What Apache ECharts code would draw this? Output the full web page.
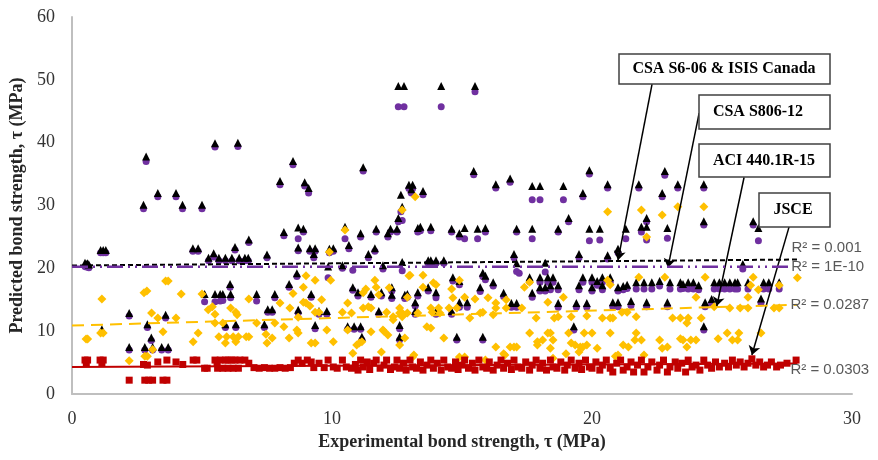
<!DOCTYPE html>
<html><head><meta charset="utf-8">
<script src="https://cdn.jsdelivr.net/npm/echarts@6/dist/echarts.min.js"></script>
<style>html,body{margin:0;padding:0;background:#fff}#c{width:878px;height:460px}</style>
</head><body><div id="c"></div>
<script>
const xTicks = [0, 10, 20, 30];
const yTicks = [0, 10, 20, 30, 40, 50, 60];
const seriesNames = ['CSA S6-06 & ISIS Canada', 'CSA S806-12', 'ACI 440.1R-15', 'JSCE'];
const r2Labels = ['R² = 0.001', 'R² = 1E-10', 'R² = 0.0287', 'R² = 0.0303'];

const csaS6 = [[0.5,20.9],[0.55,20.7],[0.6,20.8],[0.65,20.6],[1.1,22.9],[1.2,22.9],[1.3,22.9],[1.15,10.3],
[2.2,12.9],[2.2,7.5],[2.75,30.1],[2.85,37.8],[2.8,7.5],[2.9,11.1],[3.05,9.0],[3.1,7.5],[3.3,32.0],[3.45,7.5],[3.6,12.6],[3.7,7.5],[4.0,32.0],[4.25,30.1],[4.65,23.2],[4.85,23.2],[5.0,30.1],[5.1,15.9],[5.25,21.7],[5.45,22.4],[5.5,39.9],[5.5,15.9],[5.65,21.7],[5.7,15.9],[5.8,15.9],[5.9,21.7],[5.9,11.1],[6.08,17.5],[6.1,15.9],[6.15,21.7],[6.27,23.4],[6.3,11.1],[6.38,40.0],[6.43,21.7],[6.65,21.7],[6.78,21.7],[6.8,24.6],[7.1,15.9],[7.4,11.1],[7.5,22.2],[7.53,13.5],[7.7,13.5],[7.8,15.9],[8.0,33.9],[8.15,25.8],[8.35,17.5],[8.5,37.1],[8.65,19.2],[8.7,13.4],[8.7,26.5],[8.7,23.3],[8.9,26.3],[8.95,33.7],[9.1,32.8],[9.15,23.2],[9.2,15.9],[9.3,22.3],[9.35,23.2],[9.35,11.0],[9.5,13.2],[9.8,13.2],[9.85,20.3],[9.9,23.1],[10.05,23.2],[10.4,20.5],[10.5,26.6],[10.6,10.8],[10.65,23.7],[10.8,17.0],[10.85,10.8],[11.0,16.2],[11.1,25.6],[11.1,10.8],[11.15,9.1],[11.2,36.1],[11.4,22.3],[11.5,15.9],[11.65,23.2],[11.7,26.3],[11.8,13.2],[11.9,16.2],[11.96,20.5],[12.15,25.6],[12.25,26.3],[12.3,17.0],[12.3,15.8],[12.5,26.3],[12.55,28.0],[12.55,49.0],[12.6,11.0],[12.6,9.1],[12.65,31.7],[12.7,29.8],[12.7,21.0],[12.77,49.0],[12.8,15.8],[12.9,15.9],[12.96,33.3],[13.05,32.6],[13.1,33.3],[13.2,14.6],[13.2,13.2],[13.3,26.4],[13.3,16.2],[13.4,26.6],[13.5,32.3],[13.7,17.0],[13.7,21.3],[13.8,26.6],[13.8,21.3],[14.0,21.3],[14.0,16.2],[14.0,13.2],[14.2,49.0],[14.3,21.3],[14.6,26.3],[14.6,13.2],[14.65,18.6],[14.8,9.1],[14.9,25.6],[14.9,18.0],[14.9,14.6],[15.1,26.4],[15.2,14.6],[15.45,35.5],[15.5,49.0],[15.6,26.3],[15.7,17.0],[15.8,19.3],[15.8,9.1],[15.9,26.4],[15.9,18.8],[16.2,17.8],[16.3,33.4],[16.6,16.1],[16.85,34.3],[16.9,14.5],[17.0,22.3],[17.1,26.3],[17.1,20.8],[17.1,14.5],[17.6,18.6],[17.7,33.1],[17.7,26.3],[17.7,16.1],[18.0,33.1],[18.0,18.6],[18.0,17.0],[18.2,20.9],[18.2,17.0],[18.3,18.6],[18.4,17.3],[18.5,18.6],[18.7,26.3],[18.7,14.5],[18.7,17.3],[18.9,33.1],[19.1,28.0],[19.3,10.8],[19.4,14.5],[19.5,22.3],[19.5,17.3],[19.65,32.0],[19.65,18.6],[19.8,14.5],[19.9,35.6],[19.9,26.3],[20.0,18.6],[20.0,17.0],[20.2,18.0],[20.3,26.3],[20.4,18.6],[20.4,17.3],[20.6,33.4],[20.6,22.1],[20.7,18.6],[20.8,14.6],[21.0,23.1],[21.0,14.6],[21.0,17.0],[21.2,17.2],[21.3,26.3],[21.35,17.4],[21.5,14.8],[21.7,17.8],[21.8,33.4],[21.9,26.6],[22.0,17.8],[22.1,28.0],[22.1,26.6],[22.1,14.6],[22.3,17.8],[22.6,18.0],[22.7,32.0],[22.8,35.5],[22.9,26.4],[22.9,14.6],[23.0,17.8],[23.3,33.4],[23.4,17.8],[23.5,17.5],[23.7,17.8],[23.9,17.8],[24.1,17.3],[24.3,33.4],[24.3,27.5],[24.3,10.8],[24.35,14.6],[24.6,15.1],[24.7,17.8],[24.9,17.8],[25.1,17.8],[25.3,17.8],[25.5,17.8],[25.6,17.8],[25.8,20.7],[26.0,17.8],[26.2,27.5],[26.4,26.4],[26.5,15.2],[26.6,17.8],[26.8,17.8],[27.2,17.8]];

const csaS806 = [[0.5,20.3],[0.55,20.2],[0.6,20.4],[0.65,20.1],[1.1,22.5],[1.2,22.5],[1.3,22.5],[1.15,9.8],
[2.2,12.4],[2.2,7.0],[2.75,29.5],[2.85,37.0],[2.8,7.0],[2.9,10.6],[3.05,8.5],[3.1,7.0],[3.3,31.4],[3.45,7.0],[3.6,12.1],[3.7,7.0],[4.0,31.4],[4.25,29.5],[4.65,22.7],[4.85,22.7],[5.0,29.5],[5.1,14.7],[5.25,21.2],[5.45,21.8],[5.5,39.3],[5.5,14.7],[5.65,21.2],[5.7,14.8],[5.8,14.9],[5.9,21.2],[5.9,10.6],[6.08,17.0],[6.1,15.3],[6.15,21.2],[6.27,22.9],[6.3,10.6],[6.38,39.4],[6.43,21.2],[6.65,21.2],[6.78,21.2],[6.8,24.1],[7.1,14.8],[7.4,10.6],[7.5,21.7],[7.53,13.0],[7.7,13.0],[7.8,15.3],[8.0,33.3],[8.15,25.2],[8.35,17.0],[8.5,36.5],[8.65,18.7],[8.7,12.9],[8.7,24.7],[8.7,22.8],[8.9,25.8],[8.95,33.1],[9.1,32.0],[9.15,22.7],[9.2,15.4],[9.3,21.7],[9.35,22.7],[9.35,10.4],[9.5,12.7],[9.8,12.7],[9.85,18.5],[9.9,22.5],[10.05,22.7],[10.4,20.0],[10.5,24.7],[10.6,10.3],[10.65,23.1],[10.8,16.5],[10.8,19.7],[10.85,10.3],[11.0,15.6],[11.1,25.0],[11.1,10.3],[11.15,8.6],[11.2,35.5],[11.4,21.7],[11.5,15.4],[11.65,22.7],[11.7,25.8],[11.8,12.7],[11.9,15.6],[11.96,19.9],[12.15,25.0],[12.25,25.8],[12.3,16.4],[12.3,15.2],[12.5,25.8],[12.55,27.4],[12.55,45.7],[12.6,10.4],[12.6,8.6],[12.65,29.0],[12.7,27.6],[12.7,19.6],[12.77,45.7],[12.8,15.2],[12.9,15.4],[12.96,32.7],[13.05,32.0],[13.1,32.7],[13.2,14.0],[13.2,12.7],[13.3,25.8],[13.3,15.6],[13.4,26.0],[13.5,31.7],[13.7,16.4],[13.7,20.8],[13.8,26.0],[13.8,20.8],[14.0,20.8],[14.0,15.3],[14.0,12.7],[14.2,45.7],[14.3,20.8],[14.6,25.8],[14.6,12.7],[14.65,18.0],[14.8,8.6],[14.9,25.0],[14.9,17.4],[14.9,13.8],[15.1,24.7],[15.2,13.8],[15.45,34.9],[15.5,48.1],[15.6,24.7],[15.7,16.3],[15.8,18.7],[15.8,8.6],[15.9,25.8],[15.9,18.2],[16.2,17.2],[16.3,32.8],[16.6,15.5],[16.85,33.7],[16.9,13.8],[17.0,21.7],[17.1,25.8],[17.1,19.5],[17.2,19.2],[17.1,13.8],[17.6,17.9],[17.7,30.9],[17.7,24.7],[17.7,15.4],[18.0,30.9],[18.0,17.8],[18.0,16.4],[18.2,19.4],[18.2,16.4],[18.3,17.8],[18.4,16.6],[18.5,17.8],[18.7,25.8],[18.7,13.8],[18.7,16.6],[18.9,30.9],[19.1,27.4],[19.3,10.2],[19.4,13.8],[19.5,21.7],[19.5,16.6],[19.65,31.4],[19.65,17.8],[19.8,13.8],[19.9,35.0],[19.9,24.4],[20.0,17.8],[20.0,16.4],[20.2,17.3],[20.3,24.5],[20.4,17.8],[20.4,16.6],[20.6,32.8],[20.6,21.5],[20.7,17.8],[20.8,13.9],[21.0,22.5],[21.0,13.9],[21.0,16.4],[21.2,16.6],[21.3,24.7],[21.35,16.8],[21.5,14.1],[21.7,16.7],[21.8,32.8],[21.9,25.8],[22.0,16.7],[22.1,27.4],[22.1,24.5],[22.1,13.9],[22.3,16.7],[22.6,17.2],[22.7,31.4],[22.8,34.8],[22.9,24.8],[22.9,13.9],[23.0,16.7],[23.3,32.8],[23.4,16.7],[23.5,16.8],[23.7,16.7],[23.9,16.7],[24.1,16.6],[24.3,32.8],[24.3,26.9],[24.3,10.2],[24.35,13.9],[24.6,14.4],[24.7,16.7],[24.9,16.7],[25.1,16.7],[25.3,16.7],[25.5,16.7],[25.6,16.7],[25.8,19.9],[26.0,16.7],[26.2,26.9],[26.4,24.4],[26.5,14.5],[26.6,16.7],[26.8,16.7],[27.2,16.7]];

const aci = [[0.54,8.75],[0.6,8.75],[1.15,15.1],[1.1,9.7],[1.2,9.7],[2.2,5.3],[2.77,16.1],[2.88,16.4],[2.8,6.0],[2.9,6.0],[3.06,12.9],[3.1,7.1],[3.3,12.1],[3.5,9.9],[3.6,18.0],[3.7,18.0],[4.0,12.1],[4.2,15.9],[4.66,8.3],[4.85,9.7],[5.0,15.9],[5.24,13.4],[5.4,13.9],[5.5,12.7],[5.5,11.3],[5.8,11.3],[5.65,9.1],[6.1,13.7],[5.95,9.1],[6.2,9.1],[5.9,8.1],[6.3,8.3],[6.3,13.0],[6.35,12.6],[6.4,9.1],[6.7,9.1],[6.8,9.1],[6.8,15.1],[7.1,11.3],[7.46,9.5],[7.5,8.1],[7.7,8.9],[7.8,11.3],[8.0,14.5],[8.15,10.7],[8.35,8.9],[8.5,16.0],[8.38,13.7],[8.65,10.2],[8.7,9.7],[8.7,12.2],[8.9,17.0],[8.9,14.6],[9.0,14.5],[9.0,18.8],[9.15,14.0],[9.2,8.1],[9.35,8.1],[9.35,13.0],[9.35,18.1],[9.5,13.0],[9.6,15.0],[9.8,10.2],[9.9,22.6],[9.95,18.1],[10.05,8.3],[10.4,13.0],[10.5,26.1],[10.6,10.2],[10.6,14.5],[10.75,12.9],[10.8,6.5],[10.95,7.8],[11.05,8.1],[11.15,8.3],[11.2,16.1],[11.2,13.7],[11.3,16.7],[11.4,13.9],[11.5,9.9],[11.5,13.7],[11.65,18.1],[11.7,17.0],[11.8,15.8],[11.9,6.7],[11.96,10.2],[12.0,10.0],[12.1,13.0],[12.15,9.4],[12.2,16.9],[12.35,11.8],[12.35,12.3],[12.6,12.9],[12.6,7.8],[12.6,13.7],[12.7,12.9],[12.7,12.3],[12.7,29.3],[12.8,8.9],[12.9,12.9],[12.9,15.4],[12.96,18.8],[13.0,18.9],[13.1,5.9],[13.15,6.2],[13.2,31.4],[13.3,12.9],[13.5,17.0],[13.5,18.9],[13.65,10.7],[13.8,10.5],[13.8,13.7],[13.85,13.0],[13.9,17.7],[14.0,17.4],[14.1,13.7],[14.15,12.9],[14.3,8.9],[14.5,13.7],[14.6,16.7],[14.65,15.3],[14.8,13.7],[14.9,5.9],[14.9,18.1],[15.1,5.9],[15.1,15.4],[15.3,12.1],[15.5,15.1],[15.7,12.9],[15.8,13.0],[15.9,5.4],[16.0,15.3],[16.3,14.5],[16.3,7.5],[16.3,13.7],[16.2,12.6],[16.6,6.4],[16.65,6.2],[16.7,15.0],[16.7,13.7],[16.85,7.5],[17.0,7.5],[17.1,7.5],[17.3,13.7],[17.4,17.0],[17.6,9.7],[17.6,17.8],[17.85,12.1],[17.9,8.3],[17.9,7.8],[18.1,8.6],[18.3,9.7],[18.3,14.6],[18.4,7.3],[18.4,9.7],[18.5,8.6],[18.5,5.7],[18.55,12.1],[18.7,12.3],[18.9,15.4],[19.0,6.4],[19.1,9.7],[19.2,8.1],[19.2,12.3],[19.35,7.8],[19.5,6.7],[19.55,7.5],[19.65,7.5],[19.7,9.7],[19.8,7.8],[19.8,12.4],[20.0,9.7],[20.2,7.3],[20.4,12.1],[20.6,29.0],[20.6,18.1],[20.7,12.1],[20.7,9.7],[20.7,17.4],[20.8,12.1],[20.9,6.0],[21.0,6.2],[21.15,13.0],[21.2,7.8],[21.35,13.0],[21.4,7.5],[21.65,8.6],[21.7,12.3],[21.7,9.7],[21.8,18.6],[21.9,29.3],[21.9,8.6],[22.0,6.2],[22.1,25.0],[22.6,8.6],[22.7,28.5],[22.7,7.3],[22.8,18.6],[22.9,7.5],[23.1,12.1],[23.3,29.8],[23.4,12.1],[23.4,8.8],[23.5,8.6],[23.65,11.3],[23.65,7.5],[23.7,12.1],[23.8,8.6],[24.0,8.6],[24.0,15.4],[24.2,12.1],[24.3,29.8],[24.35,18.6],[24.7,13.9],[24.85,8.8],[25.2,9.7],[25.3,13.7],[25.4,8.6],[25.6,8.6],[25.65,9.7],[25.7,13.7],[26.0,15.4],[26.0,13.7],[26.1,17.3],[26.2,18.6],[26.4,16.6],[26.5,9.7],[27.0,13.7],[27.2,13.7],[27.2,17.3],[27.9,18.5]];

const jsce = [[0.5,5.4],[0.6,5.4],[0.55,5.0],[1.08,5.4],[1.2,5.4],[1.15,4.9],[2.2,2.2],[2.75,4.7],[2.9,4.6],[2.8,2.2],[2.95,2.2],[3.1,2.2],[3.3,5.1],[3.5,2.2],[3.65,2.2],[3.65,5.4],[4.0,5.1],[4.26,4.7],[4.66,5.4],[4.8,5.4],[5.1,4.1],[5.2,4.1],[5.5,5.4],[5.58,4.9],[5.7,5.4],[5.9,5.4],[6.0,5.4],[6.15,5.4],[6.27,5.4],[6.46,5.4],[6.65,5.4],[5.6,4.1],[5.8,4.1],[6.0,4.1],[6.2,4.1],[6.4,4.1],[6.8,4.9],[7.0,4.2],[7.2,4.1],[7.4,4.2],[7.6,4.1],[7.8,4.1],[8.0,4.2],[8.2,4.1],[8.4,4.2],[8.55,4.9],[8.7,5.4],[8.85,4.9],[9.05,5.4],[9.2,5.1],[9.3,4.2],[9.5,4.9],[9.7,4.2],[9.85,5.4],[10.05,4.3],[10.2,4.1],[10.4,5.4],[10.55,4.3],[10.75,4.1],[10.9,4.7],[11.0,3.8],[11.1,5.4],[11.2,4.3],[11.35,5.1],[11.45,3.9],[11.6,4.9],[11.7,5.4],[11.85,4.1],[12.0,4.6],[12.1,5.4],[12.25,3.9],[12.4,4.3],[12.5,5.4],[12.6,4.1],[12.75,4.9],[12.85,3.8],[13.0,5.4],[13.1,4.3],[13.25,4.1],[13.4,5.1],[13.5,3.8],[13.65,4.6],[13.8,5.4],[13.9,4.1],[14.05,4.9],[14.2,3.8],[14.3,5.4],[14.45,4.3],[14.6,4.1],[14.75,5.1],[14.85,3.9],[15.0,4.6],[15.1,5.4],[15.25,4.1],[15.4,4.9],[15.5,3.8],[15.65,5.4],[15.8,4.3],[15.95,4.1],[16.05,5.1],[16.2,3.8],[16.35,4.6],[16.5,5.4],[16.6,4.1],[16.75,4.9],[16.9,3.9],[17.0,5.4],[17.15,4.3],[17.3,4.1],[17.45,5.1],[17.6,3.8],[17.7,4.6],[17.85,5.4],[18.0,4.1],[18.1,4.9],[18.25,3.8],[18.4,5.4],[18.5,4.3],[18.65,4.1],[18.8,5.1],[18.95,3.8],[19.05,4.6],[19.2,5.4],[19.35,4.1],[19.5,4.9],[19.6,3.9],[19.75,5.4],[19.9,4.3],[20.0,4.1],[20.15,5.1],[20.3,3.8],[20.4,4.6],[20.55,5.4],[20.7,4.1],[20.8,3.5],[20.95,4.9],[21.1,5.4],[21.2,3.8],[21.35,4.3],[21.5,5.1],[21.6,3.5],[21.75,4.6],[21.9,5.4],[22.0,3.5],[22.15,4.3],[22.3,5.1],[22.5,3.8],[22.6,4.6],[22.75,5.4],[22.9,3.5],[23.0,4.3],[23.2,5.1],[23.3,4.1],[23.45,4.9],[23.6,3.5],[23.7,5.4],[23.85,4.3],[24.0,4.6],[24.15,3.8],[24.3,5.4],[24.45,4.6],[24.6,4.1],[24.75,5.1],[24.9,4.3],[25.1,4.9],[25.25,4.3],[25.4,5.4],[25.55,4.6],[25.7,5.1],[25.85,4.3],[26.0,4.9],[26.15,5.6],[26.3,4.6],[26.45,5.1],[26.6,4.3],[26.75,4.6],[26.9,5.1],[27.1,4.3],[27.25,4.6],[27.5,4.9],[27.85,5.4]];

const trendCSA6 = [[0, 20.45], [27.9, 21.4]];
const trendCSA806 = [[0, 20.25], [27.7, 20.25]];
const trendACI = [[0, 10.9], [27.9, 14.2]];
const trendJSCE = [[0, 4.3], [27.9, 4.85]];

// callout arrows: [start, tip] in data units
const callouts = [
  {text: seriesNames[0], from: [22.31, 49.3], to: [21.0, 21.3]},
  {text: seriesNames[1], from: [24.12, 44.7], to: [22.92, 20.1]},
  {text: seriesNames[2], from: [25.85, 34.5], to: [24.8, 14.0]},
  {text: seriesNames[3], from: [27.58, 26.6], to: [26.15, 6.2]}
];

const chart = echarts.init(document.getElementById('c'), null, {renderer: 'canvas'});
const serif = '"Liberation Serif", "Times New Roman", serif';
const sans = '"Liberation Sans", Arial, sans-serif';
const lab = (txt, off) => ({show: true, formatter: txt, color: '#595959', fontSize: 15, fontFamily: sans, offset: off, distance: 0});

const boxes = [
  {x: 619, y: 54, w: 211, h: 30, tx: 724},
  {x: 699, y: 95, w: 131, h: 34, tx: 758},
  {x: 699, y: 144, w: 131, h: 33, tx: 764},
  {x: 759, y: 193, w: 71, h: 34, tx: 793}
];
const graphic = [];
boxes.forEach((b, i) => {
  graphic.push({type: 'rect', z: 100, shape: {x: b.x, y: b.y, width: b.w, height: b.h},
    style: {fill: '#fff', stroke: '#404040', lineWidth: 1.5}});
  graphic.push({type: 'text', z: 101, x: b.tx, y: b.y + b.h / 2,
    style: {text: callouts[i].text, fill: '#000', font: 'bold 16px ' + serif, textAlign: 'center', textVerticalAlign: 'middle'}});
});

chart.setOption({
  animation: false,
  grid: {left: 72, right: 26, top: 17, bottom: 66, containLabel: false},
  xAxis: {type: 'value', min: xTicks[0], max: xTicks[xTicks.length - 1], interval: 10,
    name: 'Experimental bond strength, τ (MPa)', nameLocation: 'middle', nameGap: 36,
    nameTextStyle: {fontFamily: serif, fontWeight: 'bold', fontSize: 18, color: '#262626'},
    axisLine: {lineStyle: {color: '#BFBFBF', width: 2}}, axisTick: {show: false}, splitLine: {show: false},
    axisLabel: {fontFamily: serif, fontSize: 18, color: '#333', margin: 16}},
  yAxis: {type: 'value', min: yTicks[0], max: yTicks[yTicks.length - 1], interval: 10,
    name: 'Predicted bond strength, τ (MPa)', nameLocation: 'middle', nameGap: 32,
    nameTextStyle: {fontFamily: serif, fontWeight: 'bold', fontSize: 18, color: '#262626'},
    axisLine: {show: true, lineStyle: {color: '#BFBFBF', width: 2}}, axisTick: {show: false}, splitLine: {show: false},
    axisLabel: {fontFamily: serif, fontSize: 18, color: '#333', margin: 17}},
  graphic: graphic,
  series: [
    {name: seriesNames[1], type: 'scatter', data: csaS806, symbol: 'circle', symbolSize: 7, itemStyle: {color: '#7030A0', opacity: 1}, z: 3},
    {name: seriesNames[0], type: 'scatter', data: csaS6, symbol: 'triangle', symbolSize: 8, itemStyle: {color: '#000', opacity: 1}, z: 3},
    {name: seriesNames[2], type: 'scatter', data: aci, symbol: 'diamond', symbolSize: 9, itemStyle: {color: '#FFC000', opacity: 1}, z: 3},
    {name: seriesNames[3], type: 'scatter', data: jsce, symbol: 'rect', symbolSize: 7, itemStyle: {color: '#C00000', opacity: 1}, z: 3},
    {type: 'line', data: trendCSA6, symbol: 'none', z: 5, lineStyle: {color: '#000', width: 2, type: [5, 3]},
      endLabel: lab(r2Labels[0], [-6, -12])},
    {type: 'line', data: trendCSA806, symbol: 'none', z: 5, lineStyle: {color: '#7030A0', width: 2.5, type: [16, 5, 2, 5, 2, 5]},
      endLabel: lab(r2Labels[1], [-1, 0])},
    {type: 'line', data: trendACI, symbol: 'none', z: 5, lineStyle: {color: '#FFC000', width: 2, type: [12, 7]},
      endLabel: lab(r2Labels[2], [-7, 0])},
    {type: 'line', data: trendJSCE, symbol: 'none', z: 5, lineStyle: {color: '#C00000', width: 2, type: 'solid'},
      endLabel: lab(r2Labels[3], [-7, 6])},
    {type: 'scatter', data: [], z: 50, silent: true,
      markLine: {silent: true, symbol: ['none', 'arrow'], symbolSize: 9, label: {show: false},
        lineStyle: {color: '#000', width: 1.5, type: 'solid'},
        data: callouts.map(c => [{coord: c.from}, {coord: c.to}])}}
  ]
});
</script></body></html>
